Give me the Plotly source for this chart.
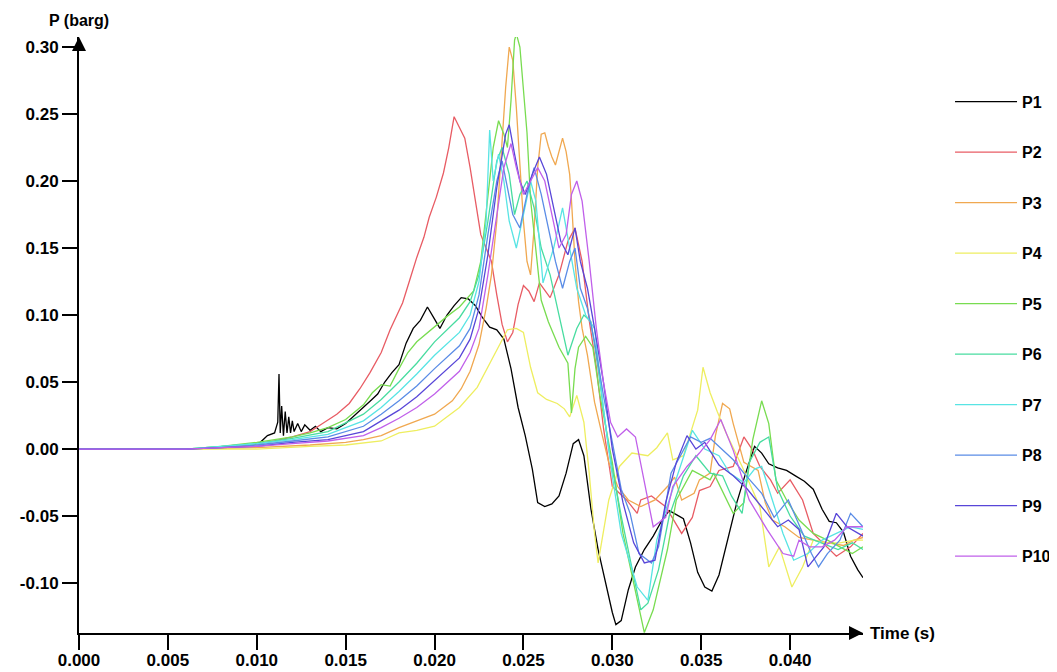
import plotly.graph_objects as go

# ---------------- data (time in s, pressure in barg) ----------------
P1_t = [0, 0.006, 0.008, 0.0095, 0.0102, 0.0106, 0.0110, 0.01118, 0.01125, 0.01132, 0.0114, 0.0115,
        0.0116, 0.0117, 0.0118, 0.0119, 0.0120, 0.0121, 0.0123, 0.0125, 0.0127, 0.0130, 0.0133, 0.0136,
        0.0140, 0.0145, 0.0150, 0.0156, 0.0160, 0.0164, 0.0168, 0.0172, 0.0176, 0.0180, 0.0184, 0.0188,
        0.0192, 0.0196, 0.0200, 0.0203, 0.0207, 0.0211, 0.0215, 0.0219, 0.0223, 0.0227, 0.0231, 0.0235,
        0.0239, 0.0243, 0.0247, 0.0251, 0.0255, 0.0258, 0.0262, 0.0266, 0.0270, 0.0274, 0.0278, 0.0281,
        0.0284, 0.0288, 0.0292, 0.0296, 0.0300, 0.0302, 0.0305, 0.0309, 0.0313, 0.0318, 0.0323, 0.0328,
        0.0332, 0.0336, 0.0340, 0.0344, 0.0348, 0.0352, 0.0356, 0.0360, 0.0365, 0.0370, 0.0375, 0.0380,
        0.0384, 0.0388, 0.0393, 0.0398, 0.0403, 0.0408, 0.0413, 0.0418, 0.0422, 0.0426, 0.0430, 0.0434,
        0.0438, 0.0441]
P1_p = [0, 0.000, 0.001, 0.002, 0.005, 0.010, 0.012, 0.020, 0.056, 0.012, 0.032, 0.010,
        0.028, 0.012, 0.024, 0.012, 0.021, 0.013, 0.019, 0.013, 0.018, 0.014, 0.017, 0.013,
        0.016, 0.015, 0.019, 0.026, 0.031, 0.036, 0.041, 0.050, 0.057, 0.063, 0.079, 0.090,
        0.096, 0.106, 0.097, 0.090, 0.100, 0.107, 0.113, 0.112, 0.107, 0.098, 0.091, 0.089,
        0.082, 0.060, 0.031, 0.010, -0.015, -0.040, -0.043, -0.041, -0.035, -0.018, 0.004, 0.007,
        -0.005, -0.045, -0.075, -0.098, -0.122, -0.131, -0.128, -0.105, -0.088, -0.075, -0.065, -0.053,
        -0.046, -0.049, -0.052, -0.070, -0.092, -0.103, -0.106, -0.094, -0.068, -0.040, -0.018, 0.002,
        -0.003, -0.011, -0.014, -0.016, -0.020, -0.024, -0.030, -0.045, -0.054, -0.055, -0.062, -0.080,
        -0.090, -0.096]

P2_t = [0, 0.006, 0.009, 0.011, 0.012, 0.013, 0.0137, 0.0145, 0.0152, 0.0158, 0.01637, 0.0170, 0.0175,
        0.0179, 0.0182, 0.0186, 0.0190, 0.0194, 0.0197, 0.0201, 0.0205, 0.0208, 0.0211, 0.0214, 0.0217,
        0.0220, 0.0223, 0.0226, 0.0229, 0.0232, 0.0235, 0.0238, 0.0241, 0.0244, 0.0247, 0.0250, 0.0253,
        0.0256, 0.0259, 0.0265, 0.0270, 0.0275, 0.0279, 0.0283, 0.0287, 0.0291, 0.0295, 0.0300, 0.0308,
        0.0314, 0.0316, 0.0322, 0.0330, 0.0339, 0.0345, 0.0349, 0.0355, 0.0360, 0.0368, 0.0374, 0.0379,
        0.0383, 0.0389, 0.0393, 0.0400, 0.0407, 0.0413, 0.0421, 0.0426, 0.0434, 0.0441]
P2_p = [0, 0.000, 0.002, 0.006, 0.009, 0.013, 0.019, 0.026, 0.034, 0.045, 0.057, 0.072, 0.089,
        0.100, 0.109, 0.126, 0.143, 0.158, 0.173, 0.188, 0.206, 0.225, 0.248, 0.240, 0.232,
        0.210, 0.185, 0.160, 0.150, 0.140, 0.115, 0.093, 0.080, 0.087, 0.108, 0.122, 0.118,
        0.110, 0.124, 0.113, 0.130, 0.155, 0.165, 0.140, 0.096, 0.061, 0.016, -0.028, -0.038,
        -0.048, -0.038, -0.035, -0.043, -0.063, -0.051, -0.031, -0.028, -0.016, -0.013, 0.009, -0.001,
        -0.013, -0.023, -0.033, -0.023, -0.038, -0.063, -0.073, -0.080, -0.073, -0.063]

P3_t = [0, 0.006, 0.010, 0.013, 0.015, 0.016, 0.017, 0.018, 0.019, 0.0200, 0.0205, 0.0210, 0.0215,
        0.0220, 0.0225, 0.0229, 0.0232, 0.0235, 0.0238, 0.0240, 0.0242, 0.0244, 0.0246, 0.0248, 0.0250,
        0.0252, 0.0254, 0.0256, 0.0258, 0.0260, 0.0262, 0.0264, 0.0266, 0.0268, 0.0270, 0.0272, 0.0274,
        0.0276, 0.0277, 0.0279, 0.0281, 0.0283, 0.0286, 0.0290, 0.0294, 0.0298, 0.0303, 0.0309, 0.0316,
        0.0324, 0.0331, 0.0335, 0.0339, 0.0346, 0.0349, 0.0355, 0.0358, 0.0362, 0.0366, 0.0368, 0.0374,
        0.0382, 0.0386, 0.0390, 0.0397, 0.0405, 0.0413, 0.0422, 0.0430, 0.0436, 0.0441]
P3_p = [0, 0.000, 0.001, 0.003, 0.005, 0.007, 0.010, 0.016, 0.021, 0.026, 0.031, 0.036, 0.045,
        0.058, 0.078, 0.105, 0.130, 0.170, 0.230, 0.270, 0.300, 0.290, 0.255, 0.210, 0.170,
        0.140, 0.130, 0.165, 0.210, 0.235, 0.236, 0.226, 0.218, 0.212, 0.222, 0.232, 0.222,
        0.205, 0.186, 0.140, 0.110, 0.090, 0.070, 0.035, 0.012, -0.010, -0.028, -0.038, -0.043,
        -0.038, -0.028, -0.021, -0.038, -0.033, -0.023, -0.018, 0.010, 0.034, 0.030, 0.019, -0.010,
        -0.016, -0.040, -0.053, -0.058, -0.066, -0.068, -0.070, -0.072, -0.068, -0.066]

P4_t = [0, 0.010, 0.013, 0.015, 0.017, 0.018, 0.019, 0.020, 0.0205, 0.0214, 0.0224, 0.0231, 0.0237,
        0.0241, 0.0246, 0.0250, 0.0254, 0.0258, 0.0263, 0.0269, 0.0273, 0.0276, 0.0280, 0.0284, 0.0287,
        0.0290, 0.0292, 0.0294, 0.0298, 0.0304, 0.0311, 0.0320, 0.0325, 0.0331, 0.0334, 0.0340, 0.0348,
        0.0351, 0.0355, 0.0359, 0.0364, 0.0373, 0.0383, 0.0388, 0.0394, 0.0401, 0.0407, 0.0413, 0.0420,
        0.0428, 0.0436, 0.0441]
P4_p = [0, 0.000, 0.002, 0.003, 0.006, 0.012, 0.014, 0.017, 0.022, 0.031, 0.046, 0.064, 0.079,
        0.089, 0.090, 0.087, 0.061, 0.042, 0.037, 0.034, 0.030, 0.024, 0.040, 0.020, -0.018,
        -0.063, -0.085, -0.070, -0.038, -0.013, -0.003, -0.005, 0.001, 0.012, -0.008, -0.005, 0.029,
        0.061, 0.042, 0.028, 0.012, -0.013, -0.043, -0.088, -0.073, -0.103, -0.088, -0.068, -0.070,
        -0.070, -0.068, -0.068]

P5_t = [0, 0.006, 0.008, 0.010, 0.012, 0.013, 0.014, 0.015, 0.016, 0.0165, 0.017, 0.0175, 0.018,
        0.0185, 0.019, 0.0198, 0.0207, 0.0214, 0.0222, 0.0226, 0.0230, 0.0233, 0.0236, 0.0239, 0.0241,
        0.0243, 0.0245, 0.0246, 0.0248, 0.0250, 0.0252, 0.0254, 0.0257, 0.0260, 0.0264, 0.0270, 0.0275,
        0.0277, 0.0279, 0.0281, 0.0285, 0.0289, 0.0293, 0.0300, 0.0306, 0.0314, 0.0318, 0.0323, 0.0331,
        0.0336, 0.0345, 0.0355, 0.0357, 0.0368, 0.0374, 0.0379, 0.0384, 0.0388, 0.0392, 0.0398, 0.0405,
        0.0413, 0.0421, 0.0428, 0.0435, 0.0441]
P5_p = [0, 0.000, 0.002, 0.005, 0.009, 0.012, 0.016, 0.022, 0.033, 0.042, 0.048, 0.047, 0.060,
        0.072, 0.080, 0.089, 0.099, 0.106, 0.118, 0.140, 0.190, 0.225, 0.245, 0.235, 0.225,
        0.260, 0.305, 0.310, 0.300, 0.270, 0.236, 0.186, 0.150, 0.111, 0.095, 0.076, 0.064,
        0.027, 0.060, 0.076, 0.084, 0.076, 0.040, -0.010, -0.063, -0.113, -0.137, -0.120, -0.075,
        -0.038, -0.016, -0.023, -0.018, -0.048, -0.040, 0.007, 0.036, 0.019, -0.023, -0.038, -0.053,
        -0.063, -0.068, -0.073, -0.078, -0.073]

P6_t = [0, 0.006, 0.008, 0.010, 0.012, 0.014, 0.016, 0.017, 0.018, 0.019, 0.020, 0.0214, 0.0220,
        0.0225, 0.0230, 0.0235, 0.0238, 0.0242, 0.0245, 0.0248, 0.0252, 0.0256, 0.0260, 0.0265, 0.0270,
        0.0275, 0.0280, 0.0284, 0.0288, 0.0292, 0.0298, 0.0305, 0.0312, 0.0316, 0.0320, 0.0326, 0.0332,
        0.0340, 0.0347, 0.0355, 0.0362, 0.0367, 0.0373, 0.0377, 0.0383, 0.0388, 0.0393, 0.0400, 0.0408,
        0.0417, 0.0427, 0.0435, 0.0441]
P6_p = [0, 0.000, 0.002, 0.004, 0.008, 0.013, 0.026, 0.037, 0.050, 0.064, 0.080, 0.098, 0.110,
        0.130, 0.170, 0.215, 0.225, 0.205, 0.175, 0.190, 0.200, 0.180, 0.150, 0.130, 0.100,
        0.070, 0.090, 0.100, 0.095, 0.060, 0.000, -0.050, -0.095, -0.120, -0.115, -0.090, -0.050,
        -0.020, -0.005, -0.018, -0.020, -0.035, -0.048, -0.010, 0.005, 0.009, -0.030, -0.050, -0.065,
        -0.070, -0.075, -0.070, -0.075]

P7_t = [0, 0.006, 0.008, 0.010, 0.012, 0.014, 0.016, 0.017, 0.018, 0.019, 0.020, 0.0214, 0.0220,
        0.0225, 0.0229, 0.0231, 0.0233, 0.0236, 0.0239, 0.0242, 0.0246, 0.0250, 0.0254, 0.0257, 0.0261,
        0.0267, 0.0272, 0.0276, 0.0280, 0.0285, 0.0290, 0.0295, 0.0300, 0.0305, 0.0314, 0.0320, 0.0325,
        0.0332, 0.0345, 0.0352, 0.0360, 0.0366, 0.0374, 0.0380, 0.0384, 0.0390, 0.0396, 0.0402, 0.0410,
        0.0418, 0.0426, 0.0434, 0.0441]
P7_p = [0, 0.000, 0.002, 0.004, 0.007, 0.011, 0.021, 0.031, 0.043, 0.056, 0.070, 0.087, 0.100,
        0.125, 0.170, 0.238, 0.200, 0.220, 0.200, 0.170, 0.150, 0.175, 0.200, 0.185, 0.124,
        0.150, 0.180, 0.150, 0.120, 0.100, 0.090, 0.030, -0.020, -0.063, -0.103, -0.113, -0.068,
        -0.038, 0.014, 0.000, -0.005, -0.018, -0.025, -0.015, -0.013, -0.038, -0.063, -0.083, -0.078,
        -0.068, -0.063, -0.058, -0.060]

P8_t = [0, 0.006, 0.008, 0.010, 0.012, 0.014, 0.016, 0.017, 0.018, 0.019, 0.020, 0.0214, 0.0220,
        0.0225, 0.0230, 0.0235, 0.0238, 0.0241, 0.0244, 0.0248, 0.0252, 0.0256, 0.0260, 0.0264, 0.0268,
        0.0272, 0.0276, 0.0279, 0.0282, 0.0286, 0.0290, 0.0295, 0.0300, 0.0305, 0.0310, 0.0315, 0.0322,
        0.0326, 0.0333, 0.0340, 0.0344, 0.0350, 0.0355, 0.0368, 0.0374, 0.0384, 0.0391, 0.0399, 0.0404,
        0.0412, 0.0416, 0.0421, 0.0428, 0.0434, 0.0441]
P8_p = [0, 0.000, 0.001, 0.003, 0.006, 0.009, 0.017, 0.026, 0.036, 0.047, 0.060, 0.077, 0.090,
        0.115, 0.160, 0.200, 0.215, 0.195, 0.175, 0.165, 0.190, 0.210, 0.190, 0.165, 0.140,
        0.120, 0.140, 0.150, 0.120, 0.105, 0.080, 0.040, 0.005, -0.030, -0.048, -0.078, -0.085,
        -0.073, -0.018, -0.001, 0.009, 0.005, 0.008, -0.008, -0.018, -0.033, -0.051, -0.038, -0.053,
        -0.078, -0.088, -0.078, -0.068, -0.048, -0.058]

P9_t = [0, 0.006, 0.008, 0.010, 0.012, 0.014, 0.016, 0.017, 0.018, 0.019, 0.020, 0.0214, 0.0220,
        0.0225, 0.0230, 0.0235, 0.0240, 0.0242, 0.0245, 0.0248, 0.0251, 0.0255, 0.0259, 0.0263, 0.0267,
        0.0271, 0.0275, 0.0279, 0.0282, 0.0286, 0.0290, 0.0295, 0.0300, 0.0306, 0.0312, 0.0318, 0.0324,
        0.0330, 0.0336, 0.0342, 0.0347, 0.0352, 0.0360, 0.0368, 0.0376, 0.0385, 0.0393, 0.0399, 0.0405,
        0.0410, 0.0419, 0.0426, 0.0432, 0.0441]
P9_p = [0, 0.000, 0.001, 0.002, 0.005, 0.007, 0.013, 0.021, 0.029, 0.039, 0.051, 0.068, 0.082,
        0.105, 0.145, 0.195, 0.235, 0.242, 0.220, 0.200, 0.190, 0.205, 0.218, 0.205, 0.180,
        0.155, 0.145, 0.165, 0.140, 0.120, 0.090, 0.050, 0.000, -0.040, -0.070, -0.085, -0.083,
        -0.040, -0.010, 0.010, 0.000, 0.005, -0.012, -0.020, -0.030, -0.045, -0.058, -0.053, -0.060,
        -0.088, -0.073, -0.048, -0.058, -0.065]

P10_t = [0, 0.006, 0.008, 0.010, 0.012, 0.014, 0.016, 0.017, 0.018, 0.019, 0.020, 0.0214, 0.0220,
         0.0225, 0.0230, 0.0235, 0.0239, 0.0243, 0.0246, 0.0250, 0.0254, 0.0258, 0.0262, 0.0266, 0.0270,
         0.0274, 0.0277, 0.0280, 0.0283, 0.0287, 0.0291, 0.0295, 0.0299, 0.0303, 0.0308, 0.0313, 0.0318,
         0.0323, 0.0330, 0.0334, 0.0342, 0.0349, 0.0355, 0.0361, 0.0368, 0.0377, 0.0387, 0.0396, 0.0402,
         0.0405, 0.0411, 0.0418, 0.0425, 0.0432, 0.0441]
P10_p = [0, 0.000, 0.001, 0.002, 0.004, 0.006, 0.010, 0.016, 0.023, 0.031, 0.041, 0.058, 0.072,
         0.090, 0.130, 0.175, 0.210, 0.228, 0.210, 0.190, 0.200, 0.210, 0.200, 0.175, 0.150,
         0.160, 0.190, 0.200, 0.185, 0.140, 0.090, 0.050, 0.020, 0.009, 0.015, 0.009, -0.025,
         -0.058, -0.051, -0.028, -0.013, -0.003, 0.007, 0.022, -0.001, -0.038, -0.060, -0.078, -0.080,
         -0.068, -0.073, -0.073, -0.068, -0.058, -0.058]

series_names = ["P1", "P2", "P3", "P4", "P5", "P6", "P7", "P8", "P9", "P10"]
series_t = [P1_t, P2_t, P3_t, P4_t, P5_t, P6_t, P7_t, P8_t, P9_t, P10_t]
series_p = [P1_p, P2_p, P3_p, P4_p, P5_p, P6_p, P7_p, P8_p, P9_p, P10_p]
series_colors = ["#000000", "#e85c64", "#f0a850", "#eeee60", "#78dc50",
                 "#48dca0", "#58e4e4", "#5a8ce6", "#5846d8", "#c060ea"]

y_ticks = [-0.10, -0.05, 0.00, 0.05, 0.10, 0.15, 0.20, 0.25, 0.30]
x_ticks = [0.000, 0.005, 0.010, 0.015, 0.020, 0.025, 0.030, 0.035, 0.040]

X_RANGE = [0, 0.0441]
Y_RANGE = [-0.1373, 0.3075]

FONT = "Liberation Sans, Arial, sans-serif"

fig = go.Figure()
for name, t, p, c in zip(series_names, series_t, series_p, series_colors):
    fig.add_trace(go.Scatter(x=t, y=p, mode="lines", name=name, legendgroup=name,
                             line=dict(color=c, width=1.3)))

# the page body adds an 8 px offset at the top-left, so the figure is 8 px smaller
fig.update_layout(
    width=1049, height=664,
    margin=dict(l=71, r=194, t=29, b=39, autoexpand=False),
    paper_bgcolor="white", plot_bgcolor="white",
    font=dict(family=FONT, size=17, color="black"),
    showlegend=True,
    legend=dict(x=1.111, xanchor="left", y=0.920, yanchor="top",
                xref="paper", yref="paper",
                tracegroupgap=26.7, itemwidth=62,
                font=dict(family=FONT, size=16, color="black", weight="bold"),
                bgcolor="rgba(0,0,0,0)"),
    xaxis=dict(range=X_RANGE, tickvals=x_ticks, ticktext=[f"{v:.3f}" for v in x_ticks],
               showgrid=False, zeroline=False, showline=True, linecolor="black", linewidth=2,
               ticks="outside", ticklen=15, tickwidth=2, tickcolor="black", automargin=False,
               ticklabelstandoff=-4,
               tickfont=dict(family=FONT, size=17, weight="bold")),
    yaxis=dict(range=Y_RANGE, tickvals=y_ticks, ticktext=[f"{v:.2f}" for v in y_ticks],
               showgrid=False, zeroline=False, showline=True, linecolor="black", linewidth=2,
               ticks="outside", ticklen=15, tickwidth=2, tickcolor="black", automargin=False,
               tickfont=dict(family=FONT, size=17, weight="bold")),
)

# axis arrows and titles
fig.add_annotation(x=X_RANGE[1], y=Y_RANGE[0], xref="x", yref="y", text="", showarrow=True,
                   ax=-14, ay=0, axref="pixel", ayref="pixel", arrowhead=2, arrowsize=1.4,
                   arrowwidth=2, arrowcolor="black")
fig.add_annotation(x=0, y=Y_RANGE[1], xref="x", yref="y", text="", showarrow=True,
                   ax=0, ay=14, axref="pixel", ayref="pixel", arrowhead=2, arrowsize=1.4,
                   arrowwidth=2, arrowcolor="black")
fig.add_annotation(x=X_RANGE[1], y=Y_RANGE[0], xref="x", yref="y", text="Time (s)",
                   showarrow=False, xanchor="left", yanchor="middle", xshift=5,
                   font=dict(family=FONT, size=17, weight="bold"))
fig.add_annotation(x=0, y=Y_RANGE[1], xref="x", yref="y", text="P (barg)",
                   showarrow=False, xanchor="center", yanchor="bottom", yshift=6, xshift=0,
                   font=dict(family=FONT, size=16, weight="bold"))

fig.write_html("out.html")
